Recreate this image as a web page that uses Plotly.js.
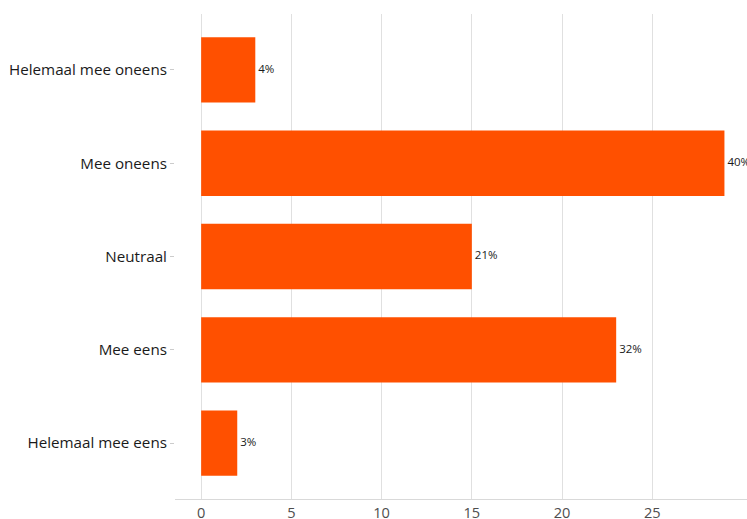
<!DOCTYPE html>
<html>
<head>
<meta charset="utf-8">
<script src="https://cdn.plot.ly/plotly-3.0.1.min.js"></script>
<style>html,body{margin:0;padding:0;background:#fff;}#chart{width:747px;height:519px;}</style>
</head>
<body>
<div id="chart"></div>
<script>
const categories = ["Helemaal mee oneens", "Mee oneens", "Neutraal", "Mee eens", "Helemaal mee eens"];
const counts = [3, 29, 15, 23, 2];
const pctLabels = ["4%", "40%", "21%", "32%", "3%"];
const xTicks = [0, 5, 10, 15, 20, 25];

const barTrace = {
  type: "bar",
  orientation: "h",
  y: categories,
  x: counts,
  width: 0.7,
  marker: {color: "#ff5000", line: {width: 0}},
  hoverinfo: "none"
};
const textTrace = {
  type: "scatter",
  mode: "text",
  y: categories,
  x: counts,
  text: pctLabels.map(t => "\u00a0" + t),
  textposition: "middle right",
  textfont: {family: "Open Sans, sans-serif", size: 11.5, color: "#1a1a1a"},
  cliponaxis: false,
  hoverinfo: "none"
};

const layout = {
  width: 747, height: 519,
  margin: {l: 175, r: 0, t: 14, b: 20},
  paper_bgcolor: "#fff", plot_bgcolor: "#fff",
  showlegend: false,
  font: {family: "Open Sans, sans-serif", size: 15, color: "#4d4d4d"},
  xaxis: {
    range: [-1.45, 30.25],
    tickvals: xTicks,
    ticktext: xTicks.map(String),
    showgrid: true, gridcolor: "#e0e0e0", gridwidth: 1,
    zeroline: false,
    showline: true, linecolor: "#d9d9d9", linewidth: 1,
    ticks: "", ticklabelstandoff: 0,
    tickfont: {size: 14.6, color: "#4d4d4d"}
  },
  yaxis: {
    type: "category",
    categoryorder: "array", categoryarray: categories,
    range: [4.6, -0.6],
    showgrid: false, zeroline: false, showline: false,
    ticks: "outside", ticklen: 4, tickcolor: "#cccccc", tickwidth: 1,
    tickfont: {size: 15.2, color: "#1a1a1a"}
  }
};
Plotly.newPlot("chart", [barTrace, textTrace], layout, {displayModeBar: false, staticPlot: true});
</script>
</body>
</html>
